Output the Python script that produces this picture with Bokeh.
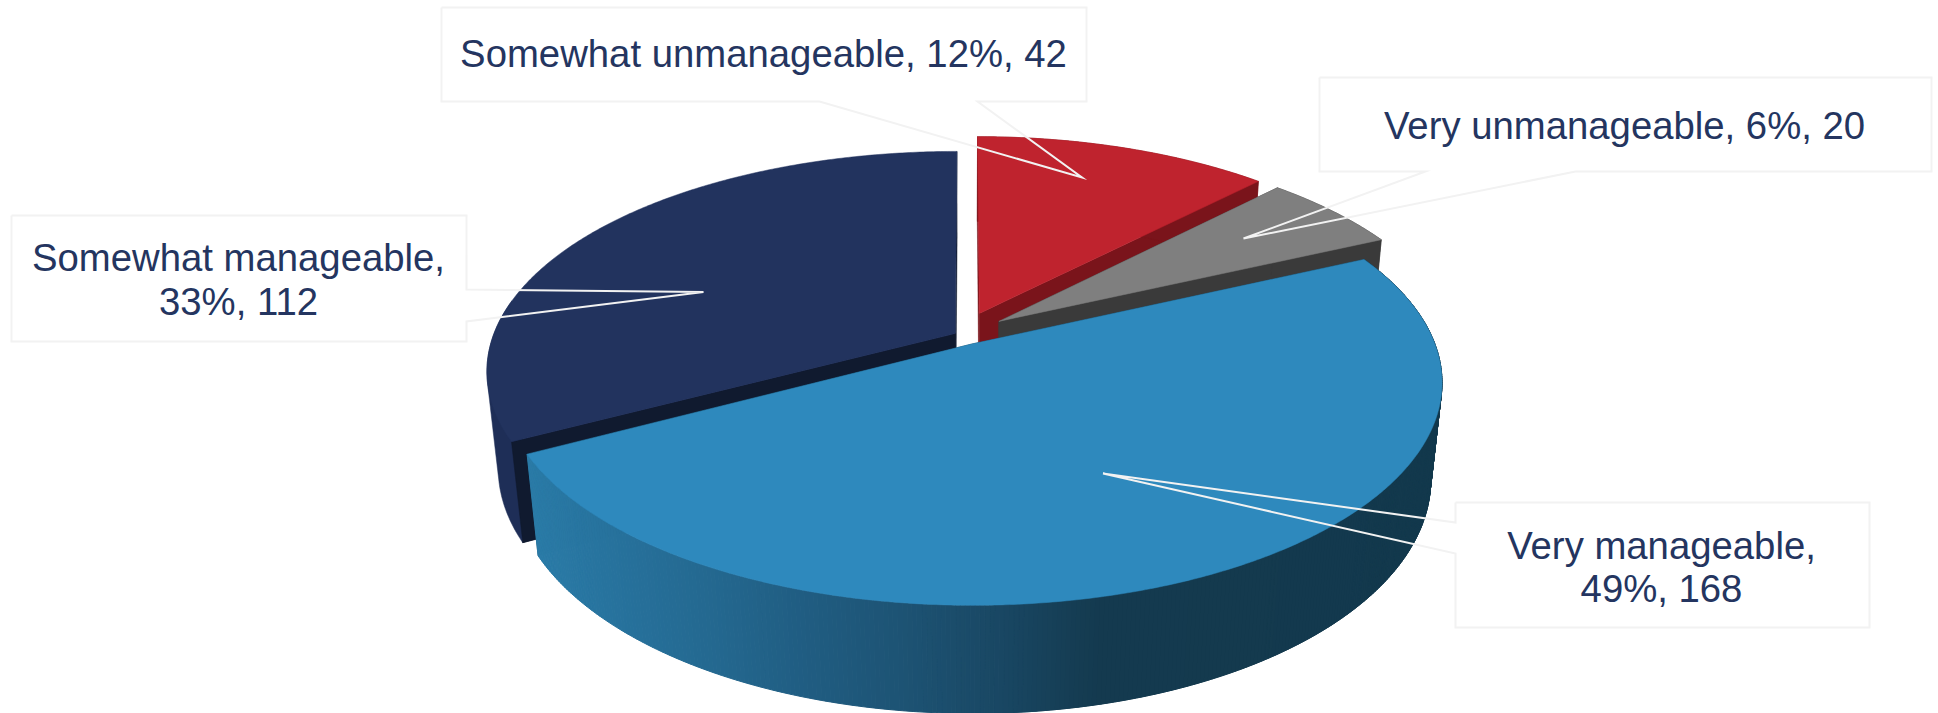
import numpy as np
from bokeh.plotting import figure
from bokeh.models import Range1d, ColumnDataSource
from bokeh.core.properties import value
from bokeh.embed import file_html
from bokeh.resources import INLINE

# ---- data ----
categories = ["Somewhat unmanageable", "Very unmanageable", "Very manageable", "Somewhat manageable"]
percents = [12, 6, 49, 33]
counts = [42, 20, 168, 112]

# ---- styles ----
top_colors = ["#BF232E", "#7F7F7F", "#2E89BD", "#22335E"]
cut_colors = ["#7A141B", "#3A3A3A", "#13394D", "#101A2F"]
wall_colors = ["#7A141B", "#3A3A3A", "#13394D", "#1E2E57"]
explode = [(0.028, 0.110), (0.070, 0.0715), (0.011, -0.035), (-0.024, 0.014)]
radius_x = [0.98, 0.98, 0.984, 0.988]
draw_order = [3, 0, 1, 2]
TEXT = "#243560"
LINE = "#F2F2F2"
FONT = "Liberation Sans"
FS = "38.3px"

# ---- camera ----
CX, CY, F, G, K, M, N = 966.0, 336.0, 468.0, 214.0, 0.17, 0.0235, 98.0


def project(X, Y, Z):
    w = 1 + K * Y + M * Z
    return CX + F * X / w, CY - (G * Y - N * Z) / w


def hull(xs, ys):
    pts = sorted(set(zip(np.round(xs, 2).tolist(), np.round(ys, 2).tolist())))

    def half(seq):
        out = []
        for q in seq:
            while len(out) >= 2 and (out[-1][0] - out[-2][0]) * (q[1] - out[-2][1]) - (out[-1][1] - out[-2][1]) * (q[0] - out[-2][0]) <= 0:
                out.pop()
            out.append(q)
        return out[:-1]

    h = half(pts) + half(pts[::-1])
    return [q[0] for q in h], [q[1] for q in h]


p = figure(width=1938, height=713, output_backend="svg", toolbar_location=None,
           x_range=Range1d(0, 1938), y_range=Range1d(713, 0), min_border=0)
p.axis.visible = False
p.grid.visible = False
p.outline_line_color = None
p.background_fill_color = "white"
p.border_fill_color = "white"

edges = np.cumsum([0] + counts) / sum(counts) * 360.0

# blue wall shading, by screen x
grad_x = [520, 600, 700, 800, 900, 1000, 1100, 1460]
grad_c = np.array([[0x2B, 0x7C, 0xA8], [0x27, 0x73, 0x9E], [0x24, 0x69, 0x91], [0x20, 0x5D, 0x82],
                   [0x1D, 0x53, 0x74], [0x19, 0x47, 0x63], [0x14, 0x3A, 0x4F], [0x13, 0x39, 0x4D]], float)


def hexcol(x):
    c = [int(round(np.interp(x, grad_x, grad_c[:, i]))) for i in range(3)]
    return "#%02X%02X%02X" % tuple(c)


for i in draw_order:
    a0, a1 = edges[i], edges[i + 1]
    ex, ey = explode[i]
    th = np.radians(np.arange(a0, a1, 0.5).tolist() + [a1])
    X, Y = radius_x[i] * np.sin(th) + ex, np.cos(th) + ey
    tx, ty = project(X, Y, 0.0)
    bx, by = project(X, Y, 1.0)
    ax0, ay0 = project(ex, ey, 0.0)
    ax1, ay1 = project(ex, ey, 1.0)
    # cut faces
    for k in (0, -1):
        p.patch([ax0, tx[k], bx[k], ax1], [ay0, ty[k], by[k], ay1], fill_color=cut_colors[i],
                line_color=cut_colors[i], line_width=0.5)
    # outer wall
    if i == 2:
        hx, hy = hull(np.r_[tx[tx > 1000], bx[tx > 1000]], np.r_[ty[tx > 1000], by[tx > 1000]])
        p.patch(hx, hy, fill_color=wall_colors[i], line_color=wall_colors[i], line_width=0.5)
        xs, ys, cs = [], [], []
        for j in range(len(th) - 1):
            xs.append([tx[j], tx[j + 1], bx[j + 1], bx[j]])
            ys.append([ty[j], ty[j + 1], by[j + 1], by[j]])
            cs.append(hexcol((tx[j] + tx[j + 1]) / 2))
        p.patches(xs="xs", ys="ys", fill_color="c", line_color="c", line_width=1,
                  source=ColumnDataSource(dict(xs=xs, ys=ys, c=cs)))
    elif i == 3:
        front = ty > 300
        hx, hy = hull(np.r_[tx[front], bx[front]], np.r_[ty[front], by[front]])
        p.patch(hx, hy, fill_color=wall_colors[i], line_color=wall_colors[i], line_width=0.5)
        # the dark cut face stays in front of the wall
        p.patch([ax0, tx[0], bx[0], ax1], [ay0, ty[0], by[0], ay1], fill_color=cut_colors[i],
                line_color=cut_colors[i], line_width=0.5)
    else:
        p.patch(np.r_[tx, bx[::-1]], np.r_[ty, by[::-1]], fill_color=wall_colors[i],
                line_color=wall_colors[i], line_width=0.5)
    # top face
    p.patch(np.r_[ax0, tx], np.r_[ay0, ty], fill_color=top_colors[i], line_color=top_colors[i], line_width=0.5)

# ---- callouts: box corners with a pointer ----
callouts = [
    ([441, 1086, 1086, 977, 1081.5, 819, 441, 441], [7, 7, 101, 101, 177, 101, 101, 7]),
    ([1319, 1931, 1931, 1575, 1243, 1425, 1319, 1319], [77, 77, 171, 171, 238, 171, 171, 77]),
    ([1455, 1869, 1869, 1455, 1455, 1102.5, 1455, 1455], [502, 502, 627, 627, 553, 473, 522, 502]),
    ([11, 466, 466, 703, 466, 466, 11, 11], [215, 215, 289, 291.5, 321, 341, 341, 215]),
]
for cx_, cy_ in callouts:
    p.line(cx_, cy_, line_color=LINE, line_width=2, line_join="miter")

labels = [f"{c}, {pc}%, {n}" for c, pc, n in zip(categories, percents, counts)]
lines = [
    (labels[0], 763, 53),
    (labels[1], 1624, 125),
    (f"{categories[2]},", 1661, 545),
    (f"{percents[2]}%, {counts[2]}", 1661, 588),
    (f"{categories[3]},", 238, 257),
    (f"{percents[3]}%, {counts[3]}", 238, 301),
]
p.text(x=[l[1] for l in lines], y=[l[2] for l in lines], text=[l[0] for l in lines],
       text_font=value(FONT), text_font_size=value(FS), text_color=TEXT,
       text_align="center", text_baseline="middle")

open("out.html", "w").write(file_html(p, INLINE))
